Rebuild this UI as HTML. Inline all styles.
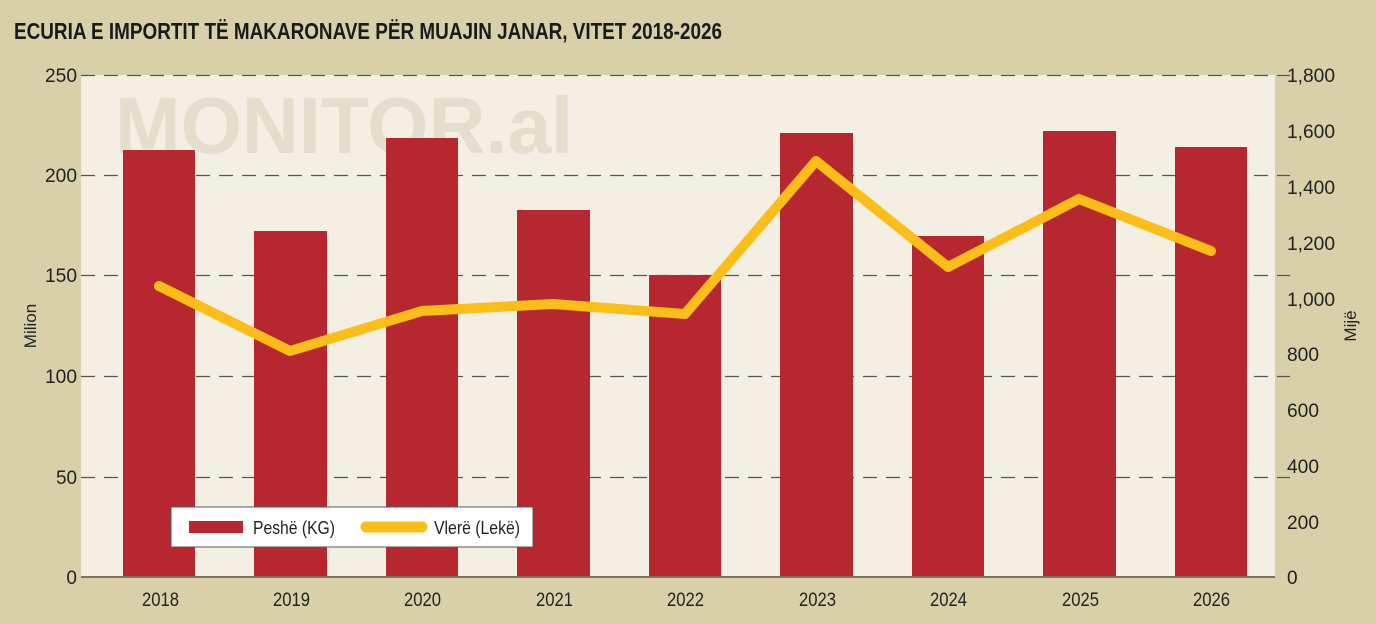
<!DOCTYPE html>
<html><head><meta charset="utf-8"><style>
html,body{margin:0;padding:0;background:#d9d0aa;}
svg{display:block;font-family:"Liberation Sans",sans-serif;}
</style></head><body>
<svg width="1376" height="624" viewBox="0 0 1376 624">
<rect width="1376" height="624" fill="#d9d0aa"/>
<text x="14" y="39" font-size="23" font-weight="bold" fill="#1a1a1a" textLength="708" lengthAdjust="spacingAndGlyphs">ECURIA E IMPORTIT TË MAKARONAVE PËR MUAJIN JANAR, VITET 2018-2026</text>
<rect x="81" y="75" width="1194" height="502" fill="#f3efe2"/>
<text x="115" y="153" font-size="80" font-weight="bold" fill="#e4dfcd" textLength="458" lengthAdjust="spacingAndGlyphs">MONITOR.al</text>
<g stroke="#555" stroke-width="1.2" stroke-dasharray="14,9">
<line x1="81" y1="75.5" x2="1290" y2="75.5"/>
<line x1="81" y1="175.5" x2="1290" y2="175.5"/>
<line x1="81" y1="275.5" x2="1290" y2="275.5"/>
<line x1="81" y1="376.5" x2="1290" y2="376.5"/>
<line x1="81" y1="477.5" x2="1290" y2="477.5"/>
</g>
<g fill="#b72730">
<rect x="123" y="150" width="72" height="427"/>
<rect x="254" y="231" width="73" height="346"/>
<rect x="386" y="138" width="72" height="439"/>
<rect x="517" y="210" width="73" height="367"/>
<rect x="649" y="275" width="72" height="302"/>
<rect x="780" y="133" width="73" height="444"/>
<rect x="912" y="236" width="72" height="341"/>
<rect x="1043" y="131" width="73" height="446"/>
<rect x="1175" y="147" width="72" height="430"/>
</g>
<polyline points="159,286 290,351 422,311 553,304 685,314 816,161 948,267 1079,199 1211,251" fill="none" stroke="#fbbd18" stroke-width="10" stroke-linejoin="round" stroke-linecap="round"/>
<line x1="81" y1="577" x2="1275" y2="577" stroke="#7a7468" stroke-width="2"/>
<g font-size="19" fill="#222" text-anchor="end">
<text x="77" y="82" textLength="32" lengthAdjust="spacingAndGlyphs">250</text><text x="77" y="182" textLength="32" lengthAdjust="spacingAndGlyphs">200</text><text x="77" y="282" textLength="32" lengthAdjust="spacingAndGlyphs">150</text>
<text x="77" y="383" textLength="32" lengthAdjust="spacingAndGlyphs">100</text><text x="77" y="484" textLength="21" lengthAdjust="spacingAndGlyphs">50</text><text x="77" y="584">0</text>
</g>
<g font-size="19" fill="#222" text-anchor="start">
<text x="1287" y="82" textLength="48" lengthAdjust="spacingAndGlyphs">1,800</text><text x="1287" y="138" textLength="48" lengthAdjust="spacingAndGlyphs">1,600</text><text x="1287" y="194" textLength="48" lengthAdjust="spacingAndGlyphs">1,400</text>
<text x="1287" y="250" textLength="48" lengthAdjust="spacingAndGlyphs">1,200</text><text x="1287" y="306" textLength="48" lengthAdjust="spacingAndGlyphs">1,000</text><text x="1287" y="361" textLength="32" lengthAdjust="spacingAndGlyphs">800</text>
<text x="1287" y="417" textLength="32" lengthAdjust="spacingAndGlyphs">600</text><text x="1287" y="473" textLength="32" lengthAdjust="spacingAndGlyphs">400</text><text x="1287" y="529" textLength="32" lengthAdjust="spacingAndGlyphs">200</text><text x="1287" y="584">0</text>
</g>
<g font-size="19" fill="#222">
<text x="142" y="606" textLength="37" lengthAdjust="spacingAndGlyphs">2018</text><text x="273" y="606" textLength="37" lengthAdjust="spacingAndGlyphs">2019</text><text x="404" y="606" textLength="37" lengthAdjust="spacingAndGlyphs">2020</text>
<text x="536" y="606" textLength="37" lengthAdjust="spacingAndGlyphs">2021</text><text x="667" y="606" textLength="37" lengthAdjust="spacingAndGlyphs">2022</text><text x="799" y="606" textLength="37" lengthAdjust="spacingAndGlyphs">2023</text>
<text x="930" y="606" textLength="37" lengthAdjust="spacingAndGlyphs">2024</text><text x="1062" y="606" textLength="37" lengthAdjust="spacingAndGlyphs">2025</text><text x="1193" y="606" textLength="37" lengthAdjust="spacingAndGlyphs">2026</text>
</g>
<text transform="translate(36,326) rotate(-90)" font-size="17" fill="#222" text-anchor="middle">Milion</text>
<text transform="translate(1356,326) rotate(-90)" font-size="17" fill="#222" text-anchor="middle">Mijë</text>
<rect x="171" y="507" width="362" height="40" fill="#fff" stroke="#555" stroke-width="1"/>
<rect x="189" y="521" width="54" height="12" fill="#b72730"/>
<text x="253" y="534" font-size="18" fill="#222" textLength="82" lengthAdjust="spacingAndGlyphs">Peshë (KG)</text>
<line x1="366" y1="527" x2="422" y2="527" stroke="#fbbd18" stroke-width="11" stroke-linecap="round"/>
<text x="434" y="534" font-size="18" fill="#222" textLength="86" lengthAdjust="spacingAndGlyphs">Vlerë (Lekë)</text>
</svg>
</body></html>
